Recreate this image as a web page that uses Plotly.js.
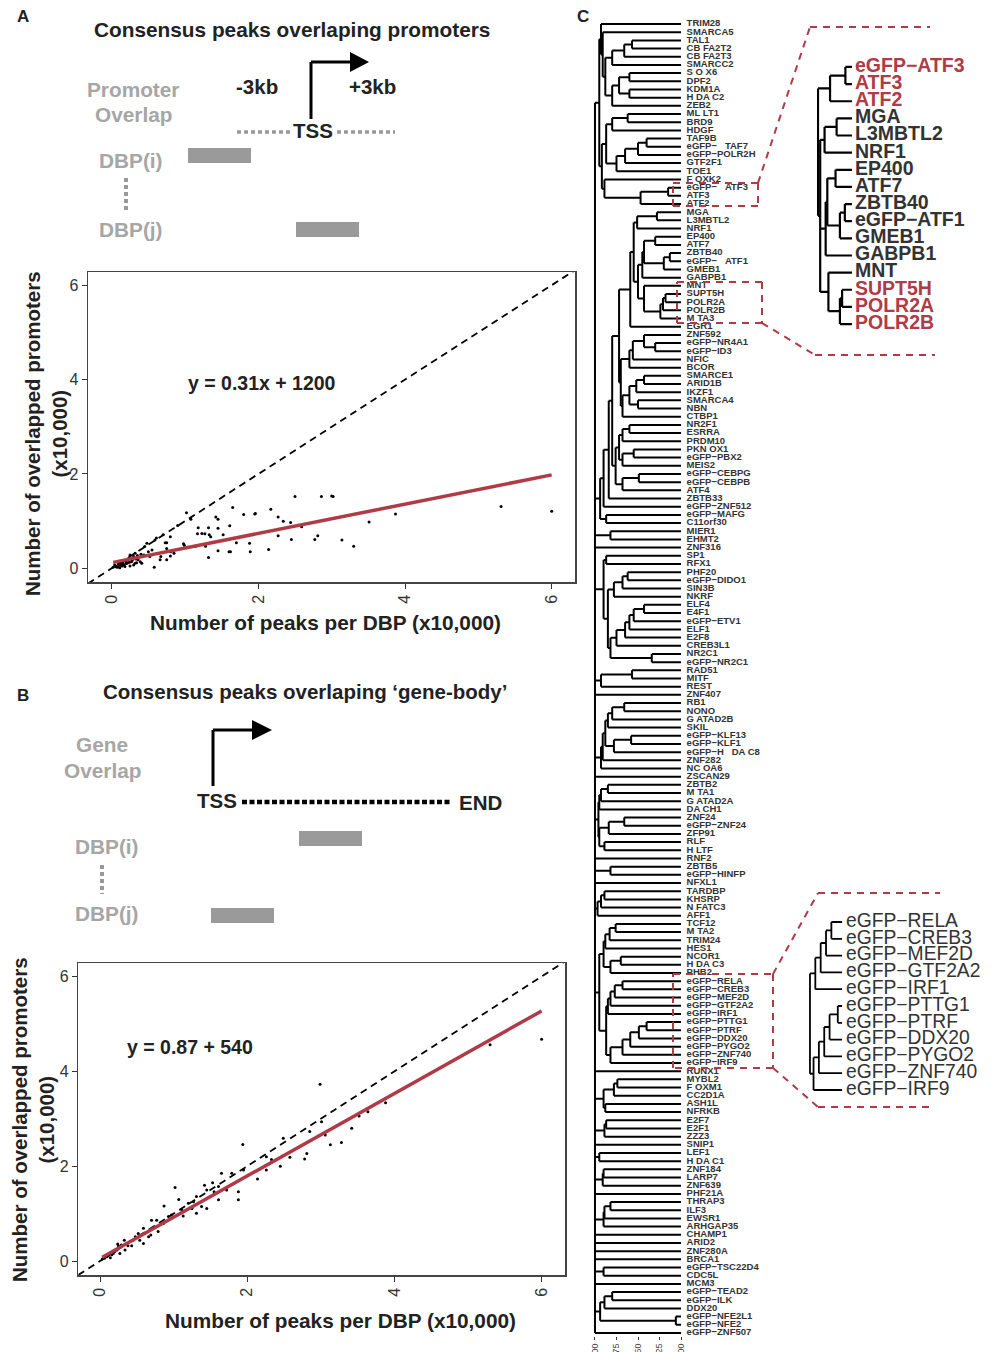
<!DOCTYPE html>
<html><head><meta charset="utf-8">
<script src="https://cdn.plot.ly/plotly-3.0.1.min.js"></script>
<style>html,body{margin:0;padding:0;background:#fff}#chart{width:995px;height:1352px}</style>
</head><body><div id="chart"></div>
<script>
// ---------- Panel A data (x10,000) ----------
const aPeaks = [2.5,2.86,3.0,3.02,5.31,6.0,3.87,3.51,3.14,3.30,2.77,2.81,2.45,2.59,2.44,2.34,2.27,2.17,2.27,2.14,1.96,1.95,1.80,1.65,1.61,1.70,1.88,1.89,1.60,1.62,1.45,1.52,1.45,1.42,1.45,1.32,1.35,1.33,1.27,1.23,1.18,1.17,1.32,1.28,1.14,1.02,1.08,0.99,0.98,0.90,0.85,0.81,0.75,0.73,0.80,0.70,0.75,0.80,0.75,0.67,0.66,0.61,0.59,0.55,0.52,0.58,0.48,0.45,0.50,0.42,0.41,0.36,0.32,0.30,0.25,0.23,0.27,0.32,0.20,0.17,0.14,0.09,0.07,0.05,0.02,0.11,0.18,0.25,0.30,0.34,0.39,0.22,0.15,0.09,0.04,0.12,0.16,0.20,0.24,0.28,0.06,0.10,0.13,0.19,0.26,0.35,0.40,0.44,0.33];
const aOverlap = [1.52,1.52,1.53,1.52,1.31,1.21,1.15,0.98,0.60,0.47,0.61,0.69,0.61,0.88,0.97,1.00,1.09,1.25,0.69,0.40,1.16,1.15,1.14,1.29,0.90,0.54,0.53,0.35,0.35,0.35,0.37,0.71,0.85,1.09,1.04,0.86,0.67,0.71,0.73,0.74,0.86,0.73,0.23,0.47,0.46,1.18,1.04,0.49,0.52,0.91,0.32,0.35,0.54,0.54,0.67,0.71,0.42,0.26,0.18,0.25,0.18,0.64,0.60,0.39,0.25,0.02,0.53,0.46,0.35,0.25,0.11,0.18,0.32,0.25,0.28,0.21,0.14,0.11,0.11,0.07,0.05,0.04,0.02,0.04,0.02,0.01,0.04,0.05,0.07,0.12,0.14,0.12,0.12,0.09,0.07,0.06,0.08,0.10,0.13,0.17,0.05,0.03,0.09,0.15,0.20,0.27,0.30,0.28,0.20];
const aFit = {slope: 0.31, intercept: 0.12};
const aEquation = 'y = 0.31x + 1200';

// ---------- Panel B data (x10,000) ----------
const bPeaks = [6.0,5.30,2.99,3.88,3.64,3.52,3.42,3.28,3.13,3.06,3.01,2.85,2.81,2.78,2.58,2.49,2.45,2.33,2.26,2.26,2.14,1.94,1.95,1.88,1.88,1.79,1.72,1.65,1.61,1.61,1.53,1.45,1.45,1.42,1.31,1.31,1.27,1.20,1.07,1.02,1.13,1.11,0.97,0.87,0.86,0.77,0.74,0.79,0.70,0.69,0.66,0.59,0.59,0.52,0.54,0.48,0.45,0.41,0.38,0.33,0.29,0.25,0.23,0.24,0.20,0.18,0.16,0.11,0.09,0.06,0.03,0.14,0.27,0.34,0.43,0.93,1.25,1.38,1.55];
const bOverlap = [4.68,4.56,3.73,3.34,3.15,3.06,2.80,2.50,2.45,2.66,2.94,2.73,2.27,2.15,2.19,2.59,2.00,2.14,1.92,2.20,1.73,2.46,1.92,1.46,1.29,1.85,1.50,1.85,1.57,1.29,1.65,1.50,1.11,1.60,1.36,1.01,1.25,1.22,1.30,1.55,0.95,1.08,0.97,1.16,0.79,0.86,0.72,0.62,0.86,0.55,0.51,0.69,0.37,0.58,0.44,0.51,0.44,0.41,0.32,0.44,0.34,0.32,0.23,0.36,0.20,0.16,0.13,0.11,0.09,0.06,0.04,0.07,0.16,0.23,0.32,0.94,1.11,1.15,1.46];
const bFit = {slope: 0.87, intercept: 0.054};
const bEquation = 'y = 0.87 + 540';

const scatterTicks = [0, 2, 4, 6];

// ---------- Panel C: dendrogram ----------
const dendroLabels = ['TRIM28','SMARCA5','TAL1','CB FA2T2','CB FA2T3','SMARCC2','S O X6','DPF2','KDM1A','H DA C2','ZEB2','ML LT1','BRD9','HDGF','TAF9B','eGFP−\u00a0\u00a0\u00a0TAF7','eGFP−POLR2H','GTF2F1','TOE1','F OXK2','eGFP−\u00a0\u00a0\u00a0ATF3','ATF3','ATF2','MGA','L3MBTL2','NRF1','EP400','ATF7','ZBTB40','eGFP−\u00a0\u00a0\u00a0ATF1','GMEB1','GABPB1','MNT','SUPT5H','POLR2A','POLR2B','M TA3','EGR1','ZNF592','eGFP−NR4A1','eGFP−ID3','NFIC','BCOR','SMARCE1','ARID1B','IKZF1','SMARCA4','NBN','CTBP1','NR2F1','ESRRA','PRDM10','PKN OX1','eGFP−PBX2','MEIS2','eGFP−CEBPG','eGFP−CEBPB','ATF4','ZBTB33','eGFP−ZNF512','eGFP−MAFG','C11orf30','MIER1','EHMT2','ZNF316','SP1','RFX1','PHF20','eGFP−DIDO1','SIN3B','NKRF','ELF4','E4F1','eGFP−ETV1','ELF1','E2F8','CREB3L1','NR2C1','eGFP−NR2C1','RAD51','MITF','REST','ZNF407','RB1','NONO','G ATAD2B','SKIL','eGFP−KLF13','eGFP−KLF1','eGFP−H\u00a0\u00a0\u00a0DA C8','ZNF282','NC OA6','ZSCAN29','ZBTB2','M TA1','G ATAD2A','DA CH1','ZNF24','eGFP−ZNF24','ZFP91','RLF','H LTF','RNF2','ZBTB5','eGFP−HINFP','NFXL1','TARDBP','KHSRP','N FATC3','AFF1','TCF12','M TA2','TRIM24','HES1','NCOR1','H DA C3','PHB2','eGFP−RELA','eGFP−CREB3','eGFP−MEF2D','eGFP−GTF2A2','eGFP−IRF1','eGFP−PTTG1','eGFP−PTRF','eGFP−DDX20','eGFP−PYGO2','eGFP−ZNF740','eGFP−IRF9','RUNX1','MYBL2','F OXM1','CC2D1A','ASH1L','NFRKB','E2F7','E2F1','ZZZ3','SNIP1','LEF1','H DA C1','ZNF184','LARP7','ZNF639','PHF21A','THRAP3','ILF3','EWSR1','ARHGAP35','CHAMP1','ARID2','ZNF280A','BRCA1','eGFP−TSC22D4','CDC5L','MCM3','eGFP−TEAD2','eGFP−ILK','DDX20','eGFP−NFE2L1','eGFP−NFE2','eGFP−ZNF507'];

// merge trees: [height, child, child, ...]; numbers = leaf index in dendroLabels
const clusterTop = [0.95,[0.93,0,[0.91,1,[0.88,[0.8,[0.66,[0.57,2,3],4],5],[0.8,[0.72,[0.6,6,7],[0.6,8,9]],10]]]],[0.92,[0.87,[0.8,[0.62,11,12],13],[0.75,[0.65,[0.5,[0.4,14,15],16],17],18]],[0.89,19,[0.47,[0.15,20,21],22]]]];
const clusterMGA = [0.59,[0.55,[0.51,[0.28,23,24],25],[0.5,[0.45,[0.43,[0.3,26,27],[0.2,[0.13,28,29],30]],31],[0.43,32,[0.24,[0.21,[0.18,33,34],35],36]]]],37];
const clusterZNF592 = [0.6,[0.56,[0.43,38,[0.3,39,40]],41],42];
const clusterSMARC = [0.68,[0.6,[0.52,[0.43,43,44],45],[0.5,46,47]],48];
const clusterNR2F1 = [0.76,[0.72,[0.68,[0.6,49,50],51],[0.68,[0.55,52,53],54]],[0.68,[0.49,55,56],57]];
const clusterMid = [0.94,[0.9,[0.84,[0.8,[0.72,clusterMGA,[0.7,clusterZNF592,clusterSMARC]],clusterNR2F1],58],59],[0.87,60,61]];
const clusterSP1 = [0.9,[0.87,65,66],[0.85,[0.78,[0.68,[0.62,67,68],69],70],[0.82,[0.75,[0.65,[0.6,[0.55,[0.43,71,72],73],74],75],76],[0.34,77,78]]]];
const clusterRB1 = [0.93,[0.91,[0.88,[0.85,[0.8,[0.66,83,84],85],86],[0.78,[0.58,87,88],89]],90],91];
const clusterZBTB2 = [0.96,[0.95,[0.93,[0.85,93,94],95],96],[0.95,[0.84,[0.66,97,98],99],[0.89,100,101]]];
const clusterTCF12 = [0.9,[0.88,[0.83,[0.76,110,111],112],113],[0.82,[0.7,114,115],116]];
const clusterRELA = [0.85,[0.82,[0.77,[0.68,117,118],119],120],121];
const clusterPTTG1 = [0.82,[0.68,[0.59,[0.49,[0.4,122,123],124],125],126],127];
const clusterMYBL2 = [0.9,[0.78,[0.74,129,130],131],[0.88,132,133]];
const clusterTEAD2 = [0.94,[0.89,[0.8,155,156],157],[0.06,158,159]];
const dendroTree = [1.0, clusterTop, clusterMid, [0.82,62,63], 64, clusterSP1, [0.93,[0.57,79,80],81], 82, clusterRB1, 92, clusterZBTB2, 102, [0.82,103,104], 105, [0.97,[0.93,[0.89,106,107],108],109], [0.95, clusterTCF12, [0.87, clusterRELA, clusterPTTG1]], 128, clusterMYBL2, [0.89,[0.87,134,135],136], 137, [0.95,138,139], [0.91,[0.9,140,141],142], 143, [0.9,[0.89,[0.82,144,145],146],147], 148, 149, 150, 151, [0.9,152,153], 154, clusterTEAD2, 160];
const dendroTicks = [1.00, 0.75, 0.50, 0.25, 0.00];

// zoomed insets
const inset1Labels = ['eGFP−ATF3','ATF3','ATF2','MGA','L3MBTL2','NRF1','EP400','ATF7','ZBTB40','eGFP−ATF1','GMEB1','GABPB1','MNT','SUPT5H','POLR2A','POLR2B'];
const inset1Highlight = [1,1,1,0,0,0,0,0,0,0,0,0,0,1,1,1];
const inset1Tree = [0.62,[0.4,[0.12,0,1],2],[0.58,[0.5,[0.28,3,4],5],[0.48,[0.45,[0.3,6,7],[0.22,[0.13,8,9],10]],11],[0.43,12,[0.22,[0.18,13,14],15]]]];
const inset2Labels = ['eGFP−RELA','eGFP−CREB3','eGFP−MEF2D','eGFP−GTF2A2','eGFP−IRF1','eGFP−PTTG1','eGFP−PTRF','eGFP−DDX20','eGFP−PYGO2','eGFP−ZNF740','eGFP−IRF9'];
const inset2Tree = [0.9,[0.75,[0.6,[0.45,[0.3,0,1],2],3],4],[0.8,[0.65,[0.5,[0.35,[0.12,5,6],7],8],9],10]];

// ---------- helpers ----------
const FONT = '"Liberation Sans", Arial, Helvetica, sans-serif';
const RED = '#b03a46';
const W = 995, H = 1352;
const px = x => x / W;
const py = y => 1 - y / H;

function dendroSegments(tree) {
  const xs = [], ys = [];
  function walk(node) {
    if (typeof node === 'number') return {y: node, h: 0};
    const h = node[0];
    const kids = node.slice(1).map(walk);
    const yv = kids.map(k => k.y);
    const y0 = Math.min(...yv), y1 = Math.max(...yv);
    xs.push(h, h, null); ys.push(y0, y1, null);
    kids.forEach(k => { xs.push(k.h, h, null); ys.push(k.y, k.y, null); });
    return {y: (y0 + y1) / 2, h};
  }
  walk(tree);
  return {xs, ys};
}
function fitLine(xArr, fit) {
  const x0 = Math.min(...xArr), x1 = Math.max(...xArr);
  return {x: [x0, x1], y: [fit.slope * x0 + fit.intercept, fit.slope * x1 + fit.intercept]};
}

const rangeAx = [-0.323, 6.318], rangeAy = [-0.29, 6.28];
const rangeBx = [-0.295, 6.318], rangeBy = [-0.295, 6.28];

const fitA = fitLine(aPeaks, aFit), fitB = fitLine(bPeaks, bFit);
const dMain = dendroSegments(dendroTree);
const dIn1 = dendroSegments(inset1Tree);
const dIn2 = dendroSegments(inset2Tree);

// label offsets (in each dendrogram's height units, negative = right of the leaves)
const mainLabelGap = -0.065, in1LabelGap = -0.055, in2LabelGap = -0.11;

const traces = [
  {x: [Math.min(rangeAx[0], rangeAy[0]), Math.max(rangeAx[1], rangeAy[1])], y: [Math.min(rangeAx[0], rangeAy[0]), Math.max(rangeAx[1], rangeAy[1])], xaxis: 'x', yaxis: 'y', mode: 'lines', line: {color: '#000', width: 1.8, dash: '7px,5px'}, hoverinfo: 'skip'},
  {x: aPeaks, y: aOverlap, xaxis: 'x', yaxis: 'y', mode: 'markers', marker: {color: '#000', size: 3}},
  {x: fitA.x, y: fitA.y, xaxis: 'x', yaxis: 'y', mode: 'lines', line: {color: RED, width: 3.5}},
  {x: [Math.min(rangeBx[0], rangeBy[0]), Math.max(rangeBx[1], rangeBy[1])], y: [Math.min(rangeBx[0], rangeBy[0]), Math.max(rangeBx[1], rangeBy[1])], xaxis: 'x2', yaxis: 'y2', mode: 'lines', line: {color: '#000', width: 1.8, dash: '7px,5px'}, hoverinfo: 'skip'},
  {x: bPeaks, y: bOverlap, xaxis: 'x2', yaxis: 'y2', mode: 'markers', marker: {color: '#000', size: 3}},
  {x: fitB.x, y: fitB.y, xaxis: 'x2', yaxis: 'y2', mode: 'lines', line: {color: RED, width: 3.5}},
  {x: dMain.xs, y: dMain.ys, xaxis: 'x3', yaxis: 'y3', mode: 'lines', line: {color: '#000', width: 2}, connectgaps: false},
  {x: dendroLabels.map(() => mainLabelGap), y: dendroLabels.map((_, i) => i), text: dendroLabels, xaxis: 'x3', yaxis: 'y3', mode: 'text', textposition: 'middle right', cliponaxis: false, textfont: {family: FONT, size: 9.5, color: '#333', weight: 'bold'}},
  {x: dIn1.xs, y: dIn1.ys, xaxis: 'x4', yaxis: 'y4', mode: 'lines', line: {color: '#000', width: 2.2}},
  {x: inset1Labels.map(() => in1LabelGap), y: inset1Labels.map((_, i) => i), text: inset1Labels, xaxis: 'x4', yaxis: 'y4', mode: 'text', textposition: 'middle right', cliponaxis: false, textfont: {family: FONT, size: 19.5, weight: 'bold', color: inset1Highlight.map(h => h ? RED : '#333')}},
  {x: dIn2.xs, y: dIn2.ys, xaxis: 'x5', yaxis: 'y5', mode: 'lines', line: {color: '#000', width: 1.8}},
  {x: inset2Labels.map(() => in2LabelGap), y: inset2Labels.map((_, i) => i), text: inset2Labels, xaxis: 'x5', yaxis: 'y5', mode: 'text', textposition: 'middle right', cliponaxis: false, textfont: {family: FONT, size: 19.3, color: '#333'}}
];

const scatterAxis = {
  tickvals: scatterTicks, ticks: 'outside', ticklen: 5, tickcolor: '#333', tickwidth: 1,
  tickfont: {family: FONT, size: 16, color: '#333'}, showline: true, mirror: true,
  linecolor: '#444', linewidth: 1.5, showgrid: false, zeroline: false, fixedrange: true
};
const hidden = {visible: false, fixedrange: true};

const layout = {
  width: W, height: H, margin: {l: 0, r: 0, t: 0, b: 0},
  paper_bgcolor: '#fff', plot_bgcolor: 'rgba(0,0,0,0)', showlegend: false,
  font: {family: FONT, color: '#222'},
  xaxis: Object.assign({}, scatterAxis, {domain: [px(88), px(575)], range: rangeAx, anchor: 'y', tickangle: -90}),
  yaxis: Object.assign({}, scatterAxis, {domain: [py(582), py(272)], range: rangeAy, anchor: 'x'}),
  xaxis2: Object.assign({}, scatterAxis, {domain: [px(78.3), px(565)], range: rangeBx, anchor: 'y2', tickangle: -90}),
  yaxis2: Object.assign({}, scatterAxis, {domain: [py(1275), py(963.3)], range: rangeBy, anchor: 'x2'}),
  // dendrogram: 86.06 px per height unit, h=0 at x=681
  xaxis3: {domain: [px(592.4), px(687.9)], range: [1.03, -0.08], anchor: 'y3', tickvals: dendroTicks, tickformat: '.2f', tickangle: -90, ticks: 'outside', ticklen: 3, tickcolor: '#333', tickfont: {family: FONT, size: 9, color: '#444'}, showline: false, showgrid: false, zeroline: false, fixedrange: true},
  yaxis3: Object.assign({}, hidden, {domain: [py(1336), py(21)], range: [160.37, -0.37], anchor: 'x3'}),
  // inset 1: 54.77 px per unit, h=0 at x=852
  xaxis4: Object.assign({}, hidden, {domain: [px(816.9), px(855.8)], range: [0.64, -0.07], anchor: 'y4'}),
  yaxis4: Object.assign({}, hidden, {domain: [py(332.6), py(58.4)], range: [15.5, -0.5], anchor: 'x4'}),
  // inset 2: 35.64 px per unit, h=0 at x=842
  xaxis5: Object.assign({}, hidden, {domain: [px(808.9), px(846.7)], range: [0.93, -0.13], anchor: 'y5'}),
  yaxis5: Object.assign({}, hidden, {domain: [py(1098.4), py(913.6)], range: [10.5, -0.5], anchor: 'x5'}),
  annotations: [],
  shapes: []
};

function ann(text, x, y, o) {
  layout.annotations.push(Object.assign({text, x: px(x), y: py(y), xref: 'paper', yref: 'paper', showarrow: false, xanchor: 'center', yanchor: 'middle', font: {family: FONT, size: 20, color: '#222', weight: 'bold'}}, o || {}));
}
const GRAY = '#a6a6a6';
const gfont = {family: FONT, size: 20.8, color: GRAY, weight: 'bold'};
const bfont = (s) => ({family: FONT, size: s, color: '#222', weight: 'bold'});

// panel letters
ann('A', 23, 17, {font: bfont(17)});
ann('B', 23, 695, {font: bfont(17)});
ann('C', 583, 17, {font: bfont(17)});
// panel A diagram
ann('Consensus peaks overlaping promoters', 292, 30, {font: bfont(20.8)});
ann('Promoter', 133, 90, {font: gfont});
ann('Overlap', 133, 115, {font: gfont});
ann('-3kb', 257, 86, {font: bfont(20.5)});
ann('+3kb', 372, 86, {font: bfont(20.5)});
ann('TSS', 313, 130, {font: bfont(20.5)});
ann('DBP(i)', 131, 161, {font: gfont});
ann('DBP(j)', 131, 229, {font: gfont});
ann(aEquation, 262, 383, {font: bfont(19.5)});
ann('Number of overlapped promoters<br>(x10,000)', 46, 434, {textangle: -90, font: bfont(20.5)});
ann('Number of peaks per DBP (x10,000)', 325, 622, {font: bfont(20.8)});
// panel B diagram
ann('Consensus peaks overlaping ‘gene-body’', 305, 691, {font: bfont(20.5)});
ann('Gene', 102, 745, {font: gfont});
ann('Overlap', 102, 770, {font: gfont});
ann('TSS', 217, 800, {font: bfont(20.5)});
ann('END', 480, 802, {font: bfont(20.5)});
ann('DBP(i)', 107, 846, {font: gfont});
ann('DBP(j)', 107, 914, {font: gfont});
ann(bEquation, 190, 1047, {font: bfont(19.5)});
ann('Number of overlapped promoters<br>(x10,000)', 33, 1120, {textangle: -90, font: bfont(20.5)});
ann('Number of peaks per DBP (x10,000)', 340, 1320, {font: bfont(20.8)});

function line(x0, y0, x1, y1, color, width, dash) {
  layout.shapes.push({type: 'line', xref: 'paper', yref: 'paper', x0: px(x0), y0: py(y0), x1: px(x1), y1: py(y1), line: {color, width, dash: dash || 'solid'}});
}
function rect(x0, y0, x1, y1, color) {
  layout.shapes.push({type: 'rect', xref: 'paper', yref: 'paper', x0: px(x0), y0: py(y0), x1: px(x1), y1: py(y1), fillcolor: color, line: {width: 0}});
}
function poly(pts, color) {
  const d = pts.map((p, i) => (i ? 'L' : 'M') + px(p[0]) + ',' + py(p[1])).join(' ') + ' Z';
  layout.shapes.push({type: 'path', xref: 'paper', yref: 'paper', path: d, fillcolor: color, line: {width: 0}});
}
function dashed(pts) {
  for (let i = 0; i < pts.length - 1; i++) line(pts[i][0], pts[i][1], pts[i + 1][0], pts[i + 1][1], RED, 2, '7px,6px');
}
// panel A arrow & bars
line(311, 119, 311, 62, '#000', 3);
line(311, 62, 352, 62, '#000', 3);
poly([[350, 52], [369, 62], [350, 72]], '#000');
line(237, 132, 290, 132, '#999', 3.5, '4px,3px');
line(337, 132, 395, 132, '#999', 3.5, '4px,3px');
rect(188, 148, 251, 163, '#9a9a9a');
line(126, 178, 126, 211, '#999', 4, '4px,3px');
rect(296, 222, 359, 237, '#9a9a9a');
// panel B arrow & bars
line(213, 786, 213, 730, '#000', 3);
line(213, 730, 254, 730, '#000', 3);
poly([[252, 720], [272, 730], [252, 740]], '#000');
line(242, 802, 452, 802, '#000', 4.5, '5px,2.5px');
rect(299, 831, 362, 846, '#9a9a9a');
line(102, 865, 102, 894, '#999', 4, '4px,3px');
rect(211, 908, 274, 923, '#9a9a9a');
// panel C highlight boxes and connectors
dashed([[673, 183], [758, 183], [758, 206], [673, 206], [673, 183]]);
dashed([[758, 183], [810, 27], [930, 27]]);
dashed([[677, 282], [762, 282], [762, 323], [677, 323], [677, 282]]);
dashed([[762, 323], [815, 355], [935, 355]]);
dashed([[673, 974], [773, 974], [773, 1068], [673, 1068], [673, 974]]);
dashed([[773, 974], [818, 893], [940, 893]]);
dashed([[773, 1068], [818, 1107], [935, 1107]]);

Plotly.newPlot('chart', traces, layout, {staticPlot: true, displayModeBar: false});
</script>
</body></html>
